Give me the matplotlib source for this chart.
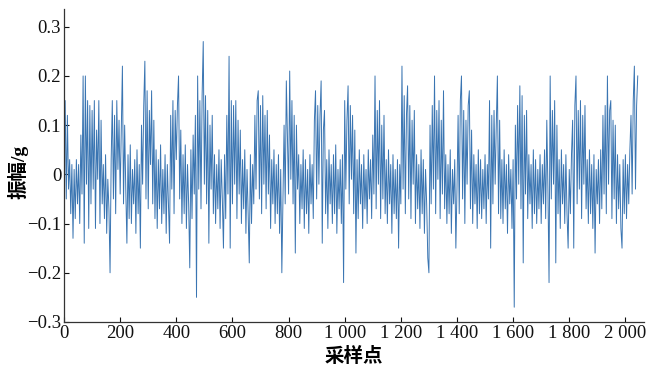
import numpy as np
import matplotlib.pyplot as plt

# amplitude readings in 0.01 g, one every 4 samples, 100 samples per row
seg_0000 = [6, 15, -5, 12, -3, 3, -8, 2, -13, 1, -9, 3, -6, 2, -10, 8, -4, 20, -14, 20, -2, 15, -11, 14, -6]
seg_0100 = [13, -3, 15, -11, 9, -1, 15, -10, 11, -6, 2, -9, 4, -12, -1, -7, -20, 3, 15, -5, 12, -8, 15, 1, 11]
seg_0200 = [-4, 9, 22, -6, 10, -3, -14, 4, -9, 6, -10, 1, -6, 3, -12, 5, -8, 2, -15, 10, -2, 14, 23, -5, 17]
seg_0300 = [-7, 13, 2, 17, -6, 11, -9, 5, -11, 3, -7, 6, -10, 1, -8, 4, -12, 2, -6, -14, 12, -3, 15, -8, 13]
seg_0400 = [3, 14, 20, -5, 9, -10, 4, -8, 6, -11, 2, -6, -19, 5, -9, 8, -4, 12, -25, 20, -3, 15, -7, 16, 27]
seg_0500 = [-2, 16, -6, 13, -14, 10, -3, 12, -8, 4, -10, 2, -7, 5, -11, 3, -5, -15, 4, -9, 12, -4, 24, -15, 15]
seg_0600 = [-6, 14, -2, 15, -9, 11, -4, 9, -10, 3, -7, 5, -12, 1, -8, -18, 4, -10, 2, -6, 12, -3, 15, 17, -5]
seg_0700 = [14, -8, 16, -2, 12, -7, 13, -4, 8, -11, 3, -6, 5, -10, 2, -8, 4, -12, 1, -20, -5, 10, -6, 19, 8]
seg_0800 = [-4, 21, -1, 15, -6, 12, -16, 10, -3, 4, -10, 2, -7, 5, -11, 3, -8, 1, -12, 4, -6, 2, -9, 11, 17]
seg_0900 = [-5, 14, -2, 12, 19, -14, 9, 13, -8, 3, -11, 5, -6, 2, -10, 4, -8, 6, -12, 1, -7, 3, -10, 4, -22]
seg_1000 = [15, -3, 11, 18, -6, 14, -1, 12, -8, 9, -16, 3, -9, 5, -6, 2, -11, 4, -7, 1, -10, 5, -5, 3, -9]
seg_1100 = [8, -4, 20, -7, 13, -2, 15, -9, 10, -5, 12, -8, 3, -10, 5, -6, 2, -12, 4, -8, 1, -9, 3, -15, 2]
seg_1200 = [-6, 22, -3, 16, -8, 12, 18, -5, 14, -9, 11, -2, 13, -10, 4, -7, 2, -11, 5, -8, 3, -12, 1, -6, -17]
seg_1300 = [-20, 10, -6, 14, -3, 20, -8, 13, -1, 15, -9, 11, -4, 17, -7, 4, -10, 2, -8, 5, -12, 1, -6, 3, -15]
seg_1400 = [-3, 12, -8, 15, 20, -5, 13, -10, 11, -2, 14, 17, -7, 9, -10, 4, -6, 2, -11, 5, -8, 3, -9, 1, -7]
seg_1500 = [4, -10, 2, -5, 15, -15, 12, -6, 13, -2, 10, 20, -8, 11, -9, 3, -10, 5, -7, 2, -12, 4, -6, 1, -11]
seg_1600 = [3, -27, 10, -5, 14, -2, 18, -7, 16, -18, 12, -4, 13, -9, 4, -6, 2, -11, 5, -8, 3, -10, 1, -7, 4]
seg_1700 = [-10, 2, -6, 5, -9, 11, -3, -22, 20, -5, 13, -2, 15, -18, 10, -8, 3, -11, 5, -6, 2, -10, 4, -8, -15]
seg_1800 = [1, -8, 4, 11, -15, 14, 20, -6, 13, -3, 15, -9, 12, -2, 14, -7, 3, -10, 5, -8, 2, -11, 4, -16, 1]
seg_1900 = [-6, 3, -10, 5, -7, 12, -4, 14, -8, 20, -2, 13, 15, -9, 11, -5, 10, -10, 4, -7, 2, -11, -15, 3, -8]
seg_2000 = [4, -9, 2, -6, 5, 12, -4, 15, 22, -3, 14, 20]

step = 4  # samples between readings

xticks = [0, 200, 400, 600, 800, 1000, 1200, 1400, 1600, 1800, 2000]
xtick_labels = ['0', '200', '400', '600', '800', '1 000', '1 200', '1 400', '1 600', '1 800', '2 000']
yticks = [-0.3, -0.2, -0.1, 0, 0.1, 0.2, 0.3]
ytick_labels = ['\u22120.3', '\u22120.2', '\u22120.1', '0', '0.1', '0.2', '0.3']

segs = [seg_0000, seg_0100, seg_0200, seg_0300, seg_0400, seg_0500, seg_0600,
        seg_0700, seg_0800, seg_0900, seg_1000, seg_1100, seg_1200, seg_1300,
        seg_1400, seg_1500, seg_1600, seg_1700, seg_1800, seg_1900, seg_2000]
amp = np.concatenate([np.array(s, dtype=float) for s in segs]) / 100.0
idx = np.arange(len(amp)) * step

plt.rcParams['font.family'] = ['Liberation Serif', 'Noto Sans CJK SC']

fig = plt.figure(figsize=(6.5, 3.77), dpi=100)
ax = fig.add_axes([0.0985, 0.146, 0.893, 0.830])

ax.plot(idx, amp, color='#3a75b2', linewidth=0.7)

ax.set_xlim(0, 2068)
ax.set_ylim(-0.3, 0.336)
ax.set_xticks(xticks)
ax.set_xticklabels(xtick_labels)
ax.set_yticks(yticks)
ax.set_yticklabels(ytick_labels)
ax.tick_params(direction='in', length=3.5, width=0.8, labelsize=13.5, pad=2, colors='#111111')

for side in ['top', 'right']:
    ax.spines[side].set_visible(False)
for side in ['left', 'bottom']:
    ax.spines[side].set_color('#333333')
    ax.spines[side].set_linewidth(0.9)

ax.set_xlabel('采样点', fontsize=14, fontweight='bold')
ax.set_ylabel('振幅/g', fontsize=14, fontweight='bold')
ax.xaxis.set_label_coords(0.5, -0.08)
ax.yaxis.set_label_coords(-0.062, 0.48)

fig.savefig('out.png', dpi=100)
